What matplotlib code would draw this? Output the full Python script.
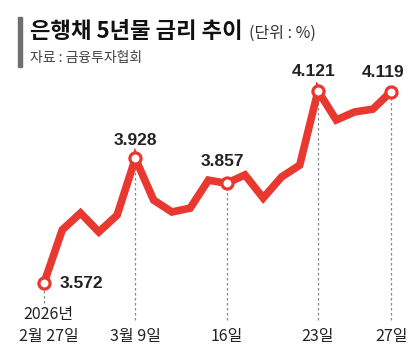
import matplotlib
matplotlib.use('Agg')
import matplotlib.pyplot as plt

plt.rcParams['font.family'] = ['Noto Sans CJK KR', 'DejaVu Sans']

# 은행채 5년물 금리 (2026.2.27 ~ 3.27, 거래일 기준)
rates = [3.572, 3.724, 3.772, 3.718, 3.766, 3.928, 3.809, 3.775, 3.786, 3.866,
         3.857, 3.881, 3.815, 3.875, 3.909, 4.121, 4.038, 4.061, 4.069, 4.119]
marked_idx = [0, 5, 10, 15, 19]
marked_labels = ['2월 27일', '3월 9일', '16일', '23일', '27일']
value_labels = ['3.572', '3.928', '3.857', '4.121', '4.119']

RED = '#e8382f'
W, H = 417, 360
XLIM = (-2.41, 20.42)
YLIM = (3.3518, 4.3811)

fig = plt.figure(figsize=(W / 100, H / 100), dpi=100)
ax = fig.add_axes([0, 0, 1, 1])
ax.set_xlim(*XLIM)
ax.set_ylim(*YLIM)
ax.axis('off')


def yfrac(v):
    return (v - YLIM[0]) / (YLIM[1] - YLIM[0])


# dotted guide lines under the marked points
for k, i in enumerate(marked_idx):
    bottom = 1 - 303 / H if k == 0 else 1 - 320 / H
    ax.axvline(i, ymin=bottom, ymax=yfrac(rates[i]), color='#888888',
               lw=0.9, linestyle=(0, (2, 2)), zorder=1)

xs = list(range(len(rates)))
ax.plot(xs, rates, color=RED, lw=5.5, solid_joinstyle='miter', zorder=2)
ax.plot(marked_idx, [rates[i] for i in marked_idx], 'o', color='white',
        markeredgecolor=RED, markersize=8, markeredgewidth=2.3, zorder=3)

# value labels
offsets = [(16, -1), (0, 18), (-4, 22), (-4, 19), (-8, 19)]
for k, i in enumerate(marked_idx):
    ax.annotate(value_labels[k], (i, rates[i]), xytext=offsets[k],
                textcoords='offset pixels', ha='left' if k == 0 else 'center',
                va='center', fontsize=12.5, fontweight='bold', color='#222222',
                family=['Liberation Sans', 'DejaVu Sans'])

# x labels
trans = ax.get_xaxis_transform()
for k, i in enumerate(marked_idx):
    x = i + 0.25 if k == 0 else i
    ax.text(x, 1 - 337 / H, marked_labels[k], transform=trans, ha='center',
            va='center', fontsize=11.5, color='#222222')
ax.text(0.25, 1 - 314 / H, '2026년', transform=trans, ha='center',
        va='center', fontsize=11.5, color='#222222')

# title block
fig.patches.append(plt.Rectangle((18 / W, 1 - 67 / H), 4 / W, 50 / H,
                                 transform=fig.transFigure,
                                 color='#6f6f6f', zorder=5))
fig.text(30 / W, 1 - 32 / H, '은행채 5년물 금리 추이', fontsize=16,
         fontweight='bold', color='#111111', va='center', ha='left')
fig.text(249 / W, 1 - 33 / H, '(단위 : %)', fontsize=11.5,
         color='#333333', va='center', ha='left')
fig.text(30 / W, 1 - 58 / H, '자료 : 금융투자협회', fontsize=10,
         color='#444444', va='center', ha='left')

fig.savefig('out.png', dpi=100)
